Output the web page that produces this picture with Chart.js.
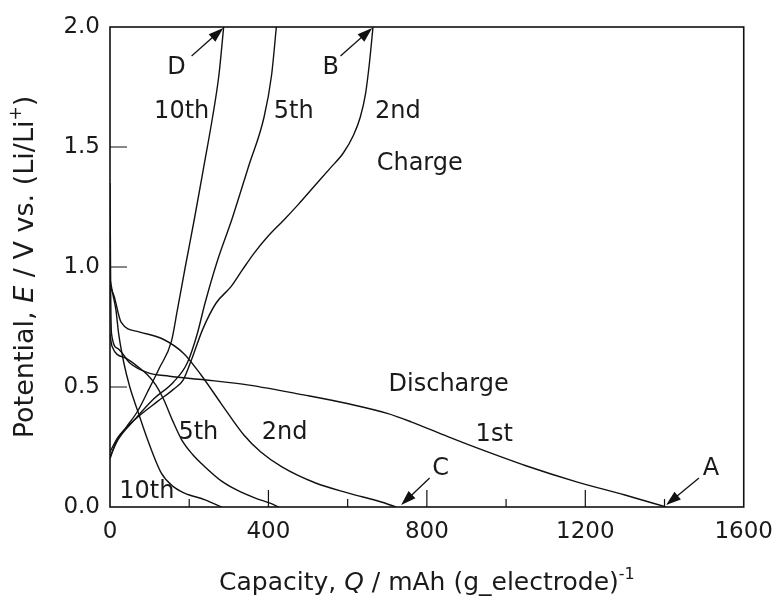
<!DOCTYPE html>
<html>
<head>
<meta charset="utf-8">
<script src="https://cdn.jsdelivr.net/npm/chart.js@4.4.1/dist/chart.umd.min.js"></script>
<style>
html, body { margin: 0; padding: 0; background: #fff; }
</style>
</head>
<body>
<canvas id="cap" width="784" height="600"></canvas>
<script>
// capacity Q (mAh/g) and potential E (V)
var dis1Q = [0, 1, 2, 4, 20, 50, 95, 150, 238, 351, 489, 602, 700, 760, 853, 928, 1050, 1178, 1300, 1404];
var dis1E = [1.35, 1.1, 0.85, 0.72, 0.66, 0.6, 0.56, 0.545, 0.53, 0.508, 0.467, 0.43, 0.39, 0.355, 0.293, 0.245, 0.172, 0.105, 0.05, 0];

var dis2Q = [0, 10, 28, 73, 133, 186, 230, 281, 338, 380, 434, 519, 602, 685, 722];
var dis2E = [0.92, 0.88, 0.77, 0.73, 0.70, 0.64, 0.55, 0.43, 0.30, 0.23, 0.167, 0.10, 0.058, 0.021, 0];

var dis5Q = [0, 5, 40, 70, 95, 115, 135, 158, 181, 208, 238, 280, 321, 370, 406, 426];
var dis5E = [0.72, 0.67, 0.62, 0.585, 0.55, 0.51, 0.45, 0.36, 0.28, 0.22, 0.17, 0.11, 0.07, 0.035, 0.015, 0];

var dis10Q = [0, 8, 15, 22, 35, 50, 70, 95, 130, 160, 188, 240, 282];
var dis10E = [0.95, 0.88, 0.82, 0.72, 0.60, 0.50, 0.40, 0.28, 0.14, 0.085, 0.058, 0.03, 0];

var chg2Q = [0, 20, 60, 120, 160, 185, 205, 234, 268, 305, 335, 364, 400, 439, 475, 514, 555, 589, 615, 632, 645, 655, 664];
var chg2E = [0.23, 0.29, 0.36, 0.44, 0.49, 0.53, 0.61, 0.74, 0.85, 0.917, 0.99, 1.058, 1.13, 1.196, 1.26, 1.333, 1.41, 1.475, 1.55, 1.625, 1.72, 1.85, 2.0];

var chg5Q = [0, 20, 60, 110, 160, 195, 220, 240, 270, 308, 350, 389, 408, 420];
var chg5E = [0.21, 0.28, 0.36, 0.45, 0.52, 0.60, 0.72, 0.85, 1.02, 1.2, 1.42, 1.625, 1.8, 2.0];

var chg10Q = [0, 15, 40, 70, 95, 125, 155, 170, 190, 213, 237, 259, 275, 287];
var chg10E = [0.2, 0.27, 0.33, 0.40, 0.48, 0.58, 0.69, 0.82, 1.0, 1.2, 1.42, 1.625, 1.8, 2.0];

// text labels placed in data units
var labelText = ['D', 'B', '10th', '5th', '2nd', 'Charge', 'Discharge', '1st', 'C', 'A', '5th', '2nd', '10th'];
var labelQ = [168, 557, 181, 464, 727, 782, 855, 970, 835, 1517, 223, 441, 93];
var labelE = [1.83, 1.83, 1.645, 1.645, 1.645, 1.43, 0.51, 0.30, 0.16, 0.16, 0.31, 0.31, 0.065];

// arrows: tail -> head, data units
var arrowFromQ = [206, 582, 807, 1487];
var arrowFromE = [1.879, 1.879, 0.121, 0.121];
var arrowToQ = [286, 662, 735, 1404];
var arrowToE = [1.996, 1.996, 0.008, 0.008];

var xTicksMajor = 400;

function pts(q, e) {
    var out = [];
    for (var i = 0; i < q.length; i++) out.push({x: q[i], y: e[i]});
    return out;
}

function curve(q, e) {
    return {
        data: pts(q, e),
        showLine: true,
        borderColor: '#111',
        borderWidth: 1.4,
        pointRadius: 0,
        cubicInterpolationMode: 'monotone',
        fill: false
    };
}

function fontFor(style, size) {
    if (style === 'i') return 'italic ' + size + 'px "DejaVu Sans"';
    if (style === 'sup') return Math.round(size * 0.62) + 'px "DejaVu Sans"';
    return size + 'px "DejaVu Sans"';
}

function richText(ctx, x, y, parts, size) {
    // parts: [text, style] where style is '', 'i' or 'sup'
    var total = 0;
    parts.forEach(function(p) {
        ctx.font = fontFor(p[1], size);
        total += ctx.measureText(p[0]).width;
    });
    var cx = x - total / 2;
    parts.forEach(function(p) {
        ctx.font = fontFor(p[1], size);
        var dy = p[1] === 'sup' ? -size * 0.45 : 0;
        ctx.fillText(p[0], cx, y + dy);
        cx += ctx.measureText(p[0]).width;
    });
}

var decor = {
    id: 'decor',
    afterDraw: function(chart) {
        var ctx = chart.ctx, a = chart.chartArea;
        var xs = chart.scales.x, ys = chart.scales.y;
        ctx.save();
        ctx.strokeStyle = '#111';
        ctx.fillStyle = '#1a1a1a';

        // frame
        ctx.lineWidth = 1.6;
        ctx.strokeRect(a.left, a.top, a.right - a.left, a.bottom - a.top);

        // inward ticks
        ctx.lineWidth = 1.2;
        ctx.beginPath();
        xs.ticks.forEach(function(t) {
            if (t.value <= xs.min || t.value >= xs.max) return;
            var px = xs.getPixelForValue(t.value);
            var len = t.value % xTicksMajor === 0 ? 17 : 8;
            ctx.moveTo(px, a.bottom);
            ctx.lineTo(px, a.bottom - len);
        });
        ys.ticks.forEach(function(t) {
            if (t.value <= ys.min || t.value >= ys.max) return;
            var py = ys.getPixelForValue(t.value);
            ctx.moveTo(a.left, py);
            ctx.lineTo(a.left + 17, py);
        });
        ctx.stroke();

        // labels
        ctx.font = '24px "DejaVu Sans"';
        ctx.textAlign = 'center';
        ctx.textBaseline = 'middle';
        for (var i = 0; i < labelText.length; i++) {
            ctx.fillText(labelText[i], xs.getPixelForValue(labelQ[i]), ys.getPixelForValue(labelE[i]));
        }

        // arrows
        ctx.lineWidth = 1.3;
        ctx.fillStyle = '#111';
        for (var k = 0; k < arrowFromQ.length; k++) {
            var x1 = xs.getPixelForValue(arrowFromQ[k]), y1 = ys.getPixelForValue(arrowFromE[k]);
            var x2 = xs.getPixelForValue(arrowToQ[k]), y2 = ys.getPixelForValue(arrowToE[k]);
            var ang = Math.atan2(y2 - y1, x2 - x1);
            var c = Math.cos(ang), s = Math.sin(ang);
            ctx.beginPath();
            ctx.moveTo(x1, y1);
            ctx.lineTo(x2 - 10 * c, y2 - 10 * s);
            ctx.stroke();
            ctx.beginPath();
            ctx.moveTo(x2, y2);
            ctx.lineTo(x2 - 15 * c + 5 * s, y2 - 15 * s - 5 * c);
            ctx.lineTo(x2 - 15 * c - 5 * s, y2 - 15 * s + 5 * c);
            ctx.closePath();
            ctx.fill();
        }

        // axis titles
        ctx.fillStyle = '#1a1a1a';
        ctx.textAlign = 'left';
        ctx.textBaseline = 'alphabetic';
        richText(ctx, (a.left + a.right) / 2, 590,
            [['Capacity, ', ''], ['Q', 'i'], [' / mAh (g_electrode)', ''], ['-1', 'sup']], 25);

        ctx.translate(33, (a.top + a.bottom) / 2);
        ctx.rotate(-Math.PI / 2);
        richText(ctx, 0, 0,
            [['Potential, ', ''], ['E', 'i'], [' / V vs. (Li/Li', ''], ['+', 'sup'], [')', '']], 27);
        ctx.restore();
    }
};

Chart.defaults.font.family = '"DejaVu Sans"';
Chart.defaults.color = '#1a1a1a';

new Chart(document.getElementById('cap'), {
    type: 'scatter',
    data: {
        datasets: [
            curve(dis1Q, dis1E), curve(dis2Q, dis2E), curve(dis5Q, dis5E), curve(dis10Q, dis10E),
            curve(chg2Q, chg2E), curve(chg5Q, chg5E), curve(chg10Q, chg10E)
        ]
    },
    options: {
        responsive: false,
        devicePixelRatio: 1,
        animation: false,
        layout: { padding: { top: 27, right: 36, left: 0, bottom: 0 } },
        plugins: { legend: { display: false }, tooltip: { enabled: false } },
        scales: {
            x: {
                type: 'linear', min: 0, max: 1600,
                grid: { display: false, drawTicks: false },
                border: { display: false },
                ticks: {
                    stepSize: 200, autoSkip: false, maxRotation: 0, padding: 11,
                    font: { size: 23 },
                    callback: function(v) { return v % xTicksMajor === 0 ? String(v) : ''; }
                },
                afterFit: function(s) { s.height = 93; }
            },
            y: {
                type: 'linear', min: 0, max: 2,
                grid: { display: false, drawTicks: false },
                border: { display: false },
                ticks: {
                    stepSize: 0.5, padding: 10,
                    font: { size: 23 },
                    callback: function(v) { return v.toFixed(1); }
                },
                afterFit: function(s) { s.width = 110; }
            }
        }
    },
    plugins: [decor]
});
</script>
</body>
</html>
